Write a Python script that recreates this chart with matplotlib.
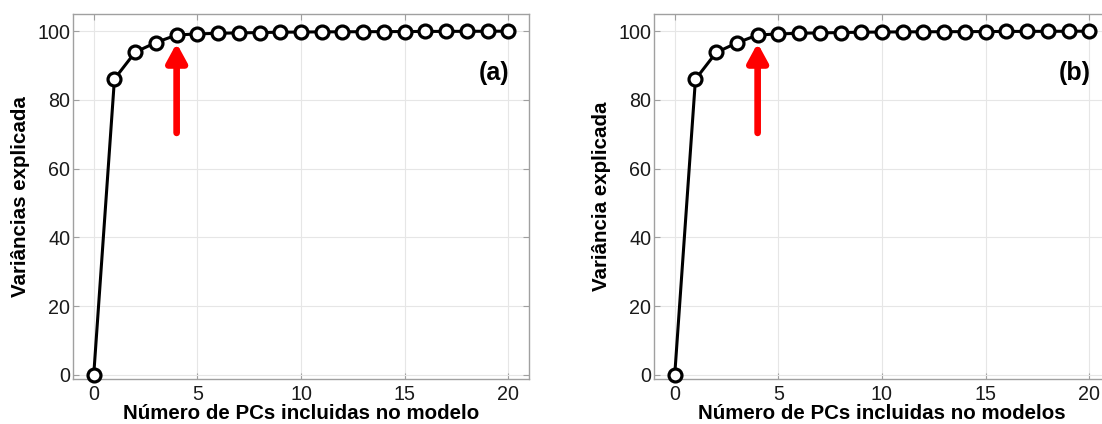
import numpy as np
import matplotlib.pyplot as plt

plt.rcParams['font.family'] = ['Liberation Sans', 'DejaVu Sans']

n_pcs = list(range(0, 21))
var_a = [0, 86.1, 93.9, 96.7, 98.9, 99.2, 99.4, 99.5, 99.6, 99.7, 99.75,
         99.8, 99.82, 99.85, 99.87, 99.9, 99.92, 99.94, 99.96, 99.98, 100]
var_b = [0, 86.0, 93.8, 96.6, 98.9, 99.2, 99.4, 99.5, 99.6, 99.7, 99.75,
         99.8, 99.82, 99.85, 99.87, 99.9, 99.92, 99.94, 99.96, 99.98, 100]
x_ticks = [0, 5, 10, 15, 20]
y_ticks = [0, 20, 40, 60, 80, 100]

panels = [
    (var_a, "Variâncias explicada", "Número de PCs incluidas no modelo", "(a)"),
    (var_b, "Variância explicada", "Número de PCs incluidas no modelos", "(b)"),
]
chosen_pc = 4
arrow_tip = 96.5
arrow_tail = 70.4

W, H = 1102, 424
fig = plt.figure(figsize=(W / 100, H / 100), dpi=100)
lefts = [73, 654]
ax_w, ax_bottom, ax_top = 456, 379, 14

for left, (vals, ylab, xlab, tag) in zip(lefts, panels):
    ax = fig.add_axes([left / W, (H - ax_bottom) / H, ax_w / W, (ax_bottom - ax_top) / H])
    ax.plot(n_pcs, vals, color='black', lw=2.2, marker='o', markersize=9.3,
            markerfacecolor='white', markeredgecolor='black', markeredgewidth=2.3,
            zorder=3, clip_on=False)
    ax.set_xlim(-1, 21)
    ax.set_ylim(-1.2, 105)
    ax.set_xticks(x_ticks)
    ax.set_yticks(y_ticks)
    ax.grid(True, color='#e6e6e6', lw=0.8)
    ax.set_axisbelow(True)
    for s in ax.spines.values():
        s.set_color('#a0a0a0')
        s.set_linewidth(1.0)
    ax.tick_params(direction='in', length=4, width=0.8, color='#a0a0a0',
                   top=True, right=True, labelsize=14.2, labelcolor='#1a1a1a')
    ax.tick_params(axis='x', pad=4)
    ax.tick_params(axis='y', pad=2)
    ax.set_xlabel(xlab, fontsize=14.8, fontweight='bold', labelpad=0)
    ax.set_ylabel(ylab, fontsize=14.8, fontweight='bold', labelpad=5)
    # red arrow pointing at the chosen number of components
    ax.annotate('', xy=(chosen_pc, arrow_tip), xytext=(chosen_pc, arrow_tail),
                arrowprops=dict(arrowstyle='-|>,head_length=1.1,head_width=0.6',
                                color='#ff0000', lw=4.8, shrinkA=0, shrinkB=0),
                zorder=4)
    ax.text(19.3, 87.8, tag, fontsize=18, fontweight='bold', ha='center', va='center')

fig.savefig('out.png', dpi=100)
